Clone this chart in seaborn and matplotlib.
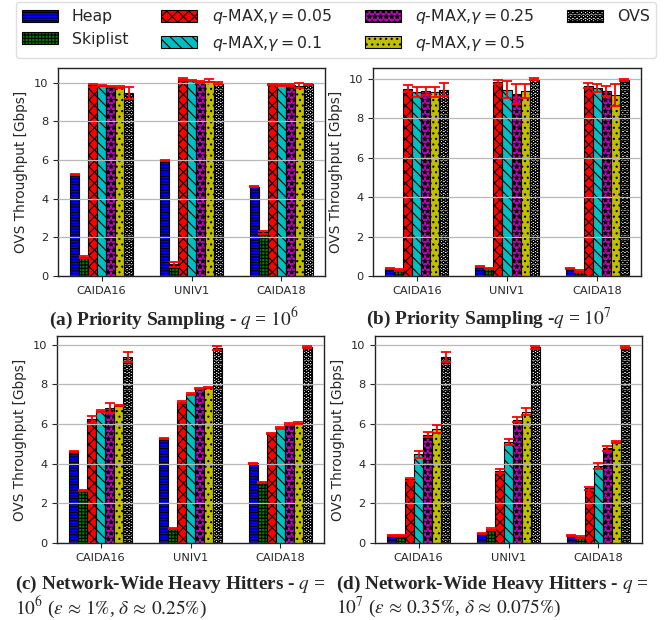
import numpy as np
import pandas as pd
import matplotlib
matplotlib.use("Agg")
import matplotlib.pyplot as plt
import matplotlib.patches as mpatches
import seaborn as sns

sns.set_style("white")
plt.rcParams["font.family"] = ["DejaVu Sans"]
plt.rcParams["hatch.linewidth"] = 0.8

datasets = ["CAIDA16", "UNIV1", "CAIDA18"]
methods = ["Heap", "Skiplist", "q-MAX,0.05", "q-MAX,0.1", "q-MAX,0.25", "q-MAX,0.5", "OVS"]
method_labels = ["Heap", "Skiplist",
                 r"$q$-MAX,$\gamma = 0.05$", r"$q$-MAX,$\gamma = 0.1$",
                 r"$q$-MAX,$\gamma = 0.25$", r"$q$-MAX,$\gamma = 0.5$", "OVS"]
colors = ["#0000ff", "#008000", "#ff0000", "#00bfbf", "#bf00bf", "#bfbf00", "#ffffff"]
hatches = ["------", "+++++", "xxx", "\\\\\\", "***", "...", "OOOO"]

# throughput [Gbps], one row per method, columns follow `datasets`
ps_q6 = [
    [5.27, 5.98, 4.62],
    [0.98, 0.60, 2.26],
    [9.86, 10.19, 9.91],
    [9.85, 10.12, 9.88],
    [9.80, 10.05, 9.88],
    [9.80, 10.10, 9.85],
    [9.48, 9.98, 9.91],
]
ps_q6_err = [
    [0.03, 0.03, 0.03],
    [0.06, 0.13, 0.08],
    [0.06, 0.06, 0.04],
    [0.04, 0.04, 0.04],
    [0.04, 0.05, 0.05],
    [0.05, 0.08, 0.12],
    [0.32, 0.07, 0.04],
]
ps_q7 = [
    [0.40, 0.50, 0.38],
    [0.30, 0.40, 0.25],
    [9.50, 9.85, 9.65],
    [9.32, 9.45, 9.55],
    [9.38, 9.22, 9.40],
    [9.35, 9.40, 9.20],
    [9.45, 10.00, 9.92],
]
ps_q7_err = [
    [0.03, 0.03, 0.03],
    [0.03, 0.03, 0.03],
    [0.18, 0.10, 0.12],
    [0.25, 0.42, 0.20],
    [0.22, 0.50, 0.25],
    [0.25, 0.35, 0.55],
    [0.32, 0.05, 0.05],
]
hh_q6 = [
    [4.60, 5.28, 4.03],
    [2.67, 0.72, 3.06],
    [6.24, 7.11, 5.53],
    [6.65, 7.51, 5.81],
    [6.81, 7.79, 6.02],
    [6.93, 7.84, 6.06],
    [9.40, 9.85, 9.90],
]
hh_q6_err = [
    [0.03, 0.03, 0.03],
    [0.03, 0.03, 0.03],
    [0.18, 0.04, 0.04],
    [0.04, 0.04, 0.04],
    [0.25, 0.04, 0.04],
    [0.04, 0.04, 0.04],
    [0.25, 0.09, 0.05],
]
hh_q7 = [
    [0.38, 0.48, 0.36],
    [0.37, 0.71, 0.30],
    [3.22, 3.65, 2.77],
    [4.47, 5.08, 3.88],
    [5.47, 6.22, 4.78],
    [5.77, 6.62, 5.10],
    [9.40, 9.87, 9.90],
]
hh_q7_err = [
    [0.03, 0.03, 0.03],
    [0.03, 0.03, 0.03],
    [0.08, 0.11, 0.07],
    [0.18, 0.15, 0.15],
    [0.12, 0.12, 0.12],
    [0.20, 0.17, 0.07],
    [0.25, 0.07, 0.05],
]

panels = [
    (ps_q6, ps_q6_err, [58, 68, 325, 276]),
    (ps_q7, ps_q7_err, [373, 68, 641, 276]),
    (hh_q6, hh_q6_err, [57, 336, 324, 543]),
    (hh_q7, hh_q7_err, [375, 336, 642, 543]),
]

W, H = 671, 620
fig = plt.figure(figsize=(W / 100, H / 100), dpi=100)

for values, errors, (x0, y0, x1, y1) in panels:
    ax = fig.add_axes([x0 / W, 1 - y1 / H, (x1 - x0) / W, (y1 - y0) / H])
    df = pd.DataFrame({
        "dataset": np.tile(datasets, len(methods)),
        "method": np.repeat(methods, len(datasets)),
        "value": np.ravel(values),
        "err": np.ravel(errors),
    })
    sns.barplot(data=df, x="dataset", y="value", hue="method",
                order=datasets, hue_order=methods, palette=colors,
                width=0.7, errorbar=None, saturation=1, legend=False,
                edgecolor="black", linewidth=0.8, ax=ax)
    bar_groups = list(ax.containers)
    for i, cont in enumerate(bar_groups):
        for j, bar in enumerate(cont):
            bar.set_hatch(hatches[i])
            xc = bar.get_x() + bar.get_width() / 2
            ax.errorbar(xc, values[i][j], yerr=errors[i][j], color="red",
                        elinewidth=1.3, capsize=3.6, capthick=1.3, zorder=3)
    ax.set_xlabel("")
    ax.set_ylabel("OVS Throughput [Gbps]", fontsize=9.8)
    ax.set_yticks([0, 2, 4, 6, 8, 10])
    ax.tick_params(axis="both", labelsize=8.2, length=3.5, width=0.8,
                   left=True, bottom=True)
    ax.yaxis.grid(True, color="#b8b8b8", linewidth=0.9)
    ax.set_axisbelow(False)
    for s in ax.spines.values():
        s.set_color("#222222")
        s.set_linewidth(1.0)

handles = [mpatches.Patch(facecolor=c, edgecolor="black", hatch=h, linewidth=0.8, label=l)
           for c, h, l in zip(colors, hatches, method_labels)]
fig.legend(handles=handles, loc="upper center", bbox_to_anchor=(336 / W, 1 - 2 / H),
           ncol=4, fontsize=11.3, handlelength=2.3, handleheight=0.75,
           handletextpad=0.9, columnspacing=2.1, labelspacing=0.45,
           frameon=True, edgecolor="#d8d8d8", borderpad=0.35, borderaxespad=0)

cap = dict(family="Liberation Serif", math_fontfamily="stix")
fs = 13.9
fig.text(174 / W, 1 - 318 / H, r"(a) Priority Sampling - $q$ = $10^6$",
         ha="center", va="center", fontsize=fs, fontweight="bold", **cap)
fig.text(489 / W, 1 - 318 / H, r"(b) Priority Sampling -$q$ = $10^7$",
         ha="center", va="center", fontsize=fs, fontweight="bold", **cap)
fig.text(15 / W, 1 - 584 / H, r"(c) Network-Wide Heavy Hitters - $q$ =",
         ha="left", va="center", fontsize=fs, fontweight="bold", **cap)
fig.text(15 / W, 1 - 607 / H,
         r"$10^6$ ($\varepsilon\,\approx\,1\%$, $\delta\,\approx\,0.25\%$)",
         ha="left", va="center", fontsize=fs, **cap)
fig.text(336 / W, 1 - 584 / H, r"(d) Network-Wide Heavy Hitters - $q$ =",
         ha="left", va="center", fontsize=fs, fontweight="bold", **cap)
fig.text(336 / W, 1 - 607 / H,
         r"$10^7$ ($\varepsilon\,\approx\,0.35\%$, $\delta\,\approx\,0.075\%$)",
         ha="left", va="center", fontsize=fs, **cap)

fig.savefig("out.png", dpi=100)
